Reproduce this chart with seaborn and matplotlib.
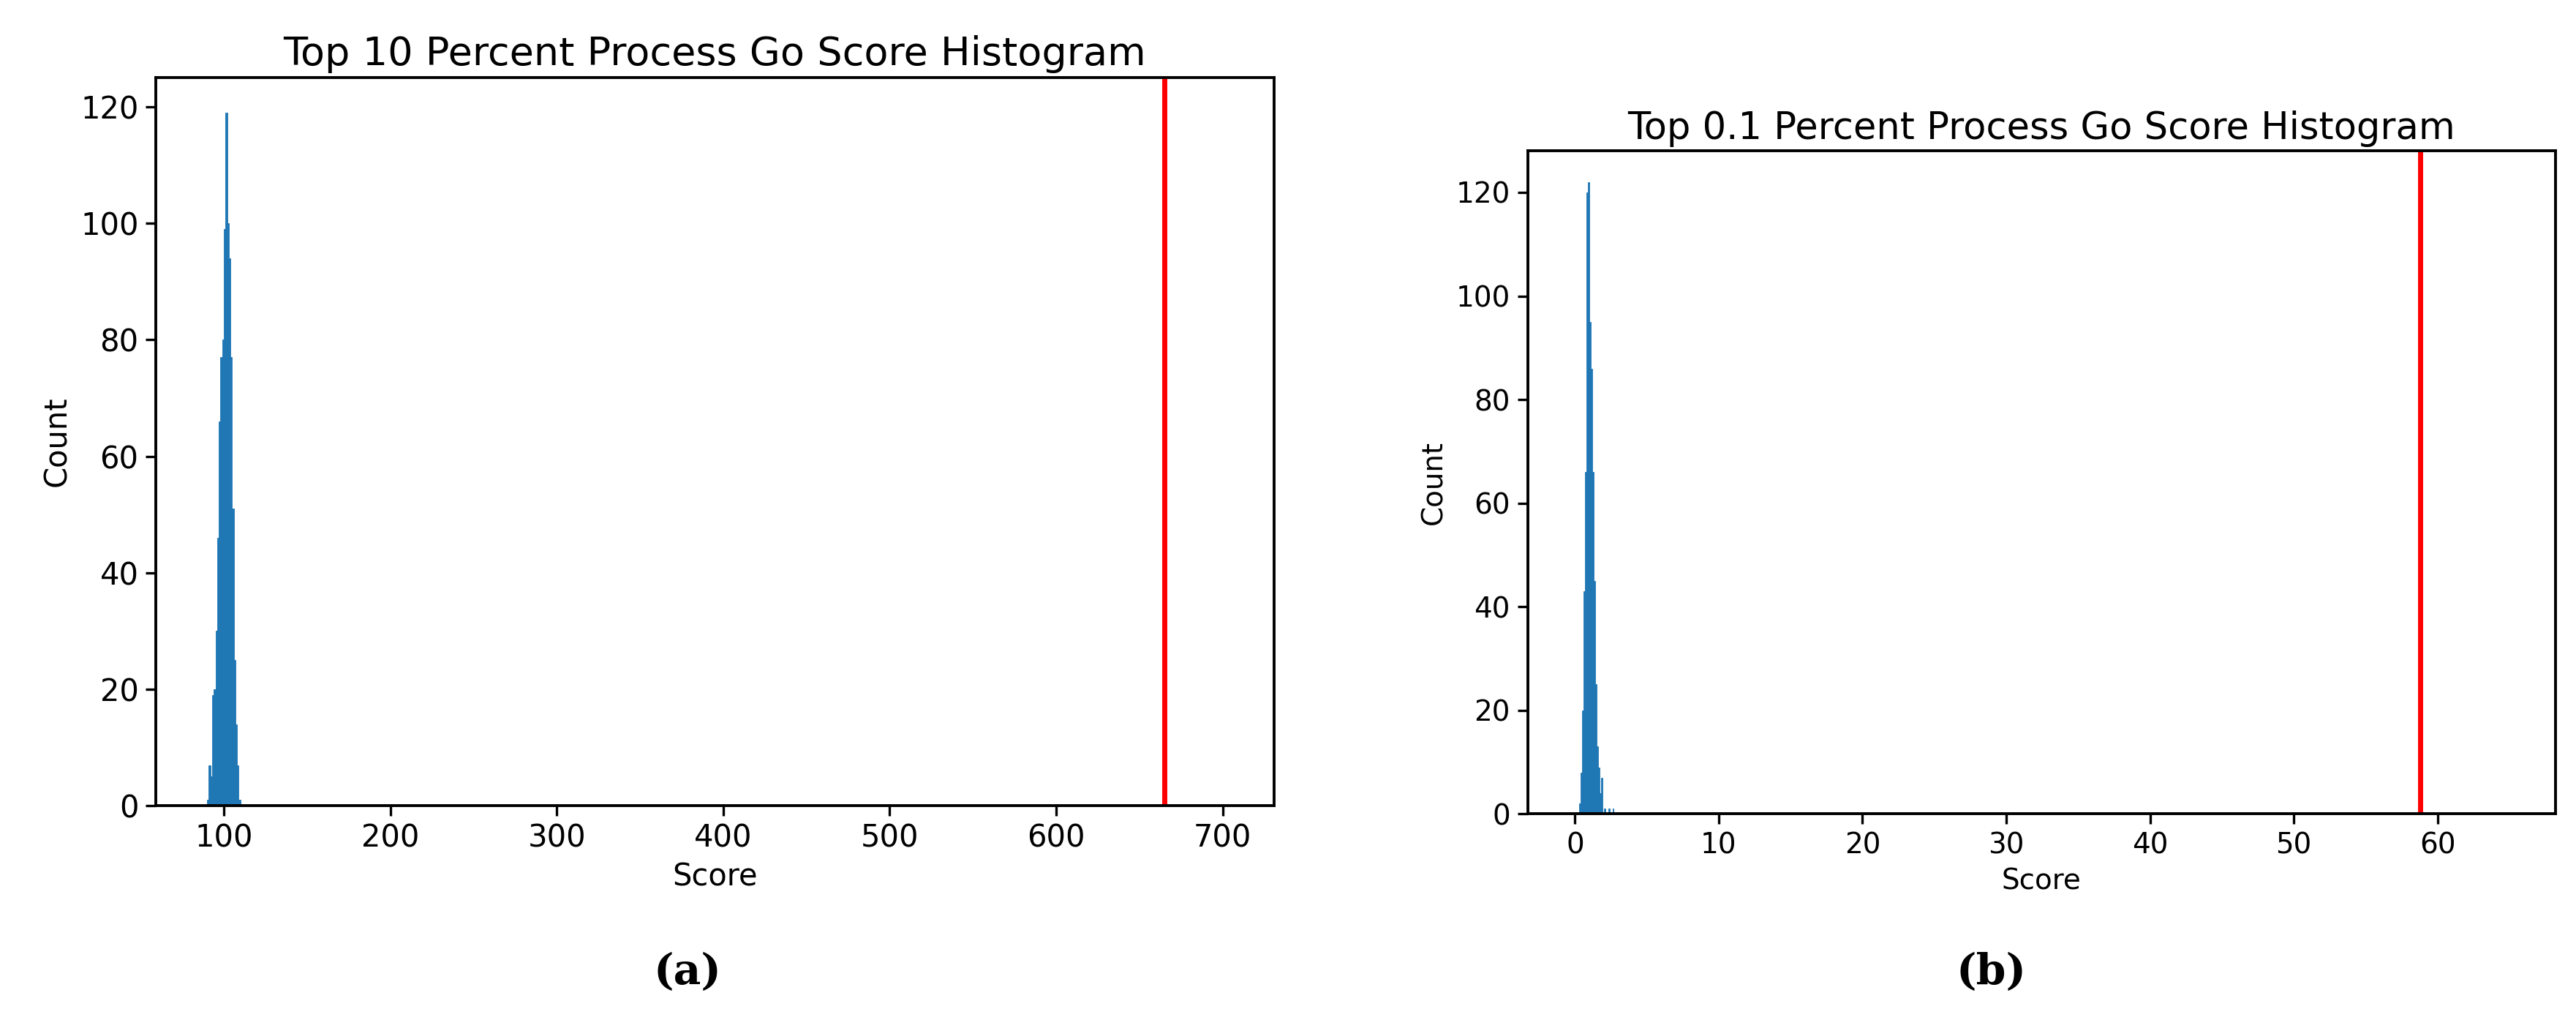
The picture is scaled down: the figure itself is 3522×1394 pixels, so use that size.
import matplotlib
matplotlib.use("Agg")
import matplotlib.pyplot as plt
import seaborn as sns
import numpy as np
import pandas as pd

sns.set_style("ticks")
plt.rcParams['font.family'] = ['DejaVu Sans']
plt.rcParams.update({"text.color": "black", "axes.labelcolor": "black",
                     "xtick.color": "black", "ytick.color": "black",
                     "axes.edgecolor": "black",
                     "xtick.major.size": 5, "ytick.major.size": 5,
                     "xtick.major.width": 1.2, "ytick.major.width": 1.2})

# Panel a: bin left edges (width 1) and counts
a_bins = [90, 91, 92, 93, 94, 95, 96, 97, 98, 99, 100, 101, 102, 103, 104, 105, 106, 107, 108, 109]
a_counts = [1, 7, 5, 19, 20, 30, 46, 66, 77, 80, 99, 119, 100, 94, 77, 51, 25, 14, 7, 1]
a_line = 665

# Panel b: bin left edges (width 0.1) and counts
b_bins = [0.3, 0.4, 0.5, 0.6, 0.7, 0.8, 0.9, 1.0, 1.1, 1.2, 1.3, 1.4, 1.5, 1.6, 1.7, 1.8, 2.0, 2.3, 2.6]
b_counts = [2, 8, 20, 43, 66, 120, 122, 95, 86, 66, 45, 25, 13, 9, 4, 7, 1, 1, 1]
b_line = 58.8

fig = plt.figure(figsize=(17.61, 6.97), dpi=200)
ax1 = fig.add_axes([0.0605, 0.21, 0.434, 0.714])
ax2 = fig.add_axes([0.593, 0.202, 0.399, 0.650])

da = pd.DataFrame({"x": np.array(a_bins, float) + 0.5, "w": np.array(a_counts, float)})
db = pd.DataFrame({"x": np.array(b_bins, float) + 0.05, "w": np.array(b_counts, float)})

sns.histplot(data=da, x="x", weights="w", binwidth=1, binrange=(90, 110),
             ax=ax1, color="#1f77b4", alpha=1, edgecolor="#1f77b4", linewidth=0.3)
ax1.axvline(a_line, color="red", lw=2.5)
ax1.set_xlim(59.2, 730.7)
ax1.set_ylim(0, 125)
ax1.set_title("Top 10 Percent Process Go Score Histogram", fontsize=19.5)
ax1.set_xlabel("Score", fontsize=15)
ax1.set_ylabel("Count", fontsize=15)
ax1.tick_params(labelsize=15)

sns.histplot(data=db, x="x", weights="w", binwidth=0.1, binrange=(0.3, 2.7),
             ax=ax2, color="#1f77b4", alpha=1, edgecolor="#1f77b4", linewidth=0.3)
ax2.axvline(b_line, color="red", lw=2.5)
ax2.set_xlim(-3.3, 68.2)
ax2.set_ylim(0, 128)
ax2.set_title("Top 0.1 Percent Process Go Score Histogram", fontsize=18.4)
ax2.set_xlabel("Score", fontsize=14)
ax2.set_ylabel("Count", fontsize=14)
ax2.tick_params(labelsize=14)

for ax in (ax1, ax2):
    for s in ax.spines.values():
        s.set_visible(True)
        s.set_linewidth(1.4)

fig.text(0.267, 0.035, "(a)", ha="center", fontsize=21, family="DejaVu Serif", weight="bold")
fig.text(0.773, 0.035, "(b)", ha="center", fontsize=21, family="DejaVu Serif", weight="bold")

fig.savefig("out.png", dpi=200)
